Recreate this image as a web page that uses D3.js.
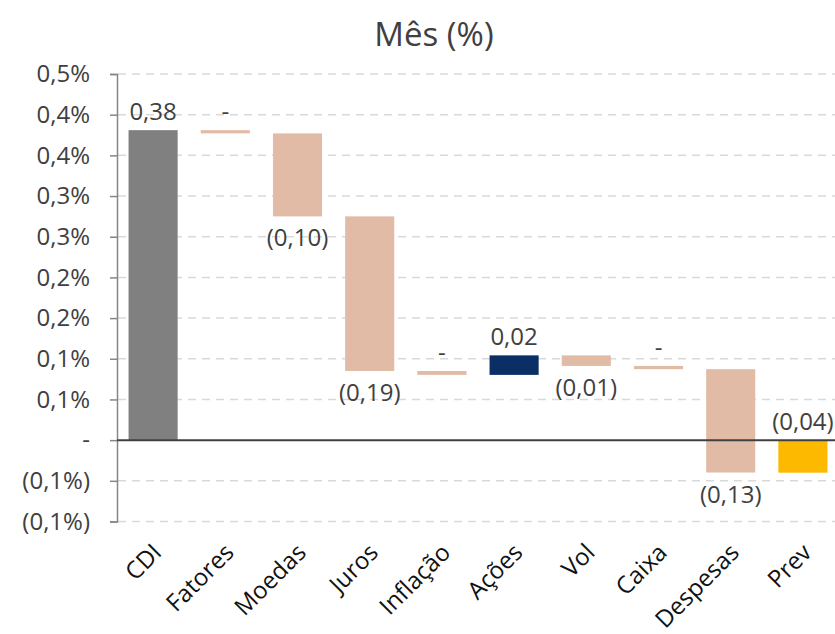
<!DOCTYPE html>
<html>
<head>
<meta charset="utf-8">
<script src="https://cdn.jsdelivr.net/npm/d3@7"></script>
<style>
  body { margin: 0; background: #fff; }
  text { font-family: 'Open Sans', sans-serif; fill: #404040; }
</style>
</head>
<body>
<svg id="chart"></svg>
<script>
// data
const categories = ['CDI', 'Fatores', 'Moedas', 'Juros', 'Inflação', 'Ações', 'Vol', 'Caixa', 'Despesas', 'Prev'];
const values = [0.381, -0.004, -0.102, -0.190, -0.0048, 0.024, -0.013, -0.004, -0.127, -0.040];
const totals = ['CDI', 'Prev'];
const yTicks = [-0.10, -0.05, 0, 0.05, 0.10, 0.15, 0.20, 0.25, 0.30, 0.35, 0.40, 0.45];
const yTickLabels = ['(0,1%)', '(0,1%)', '-', '0,1%', '0,1%', '0,2%', '0,2%', '0,3%', '0,3%', '0,4%', '0,4%', '0,5%'];

const width = 835, height = 634;
const svg = d3.select('#chart').attr('width', width).attr('height', height);

const x = d3.scaleBand()
  .domain(categories)
  .range([117, 839])
  .paddingInner(0.32)
  .paddingOuter(0.16);

const y = d3.scaleLinear().domain([-0.10, 0.45]).range([521.5, 74]);

// waterfall steps
let running = 0;
const steps = categories.map((c, i) => {
  const v = values[i];
  let start, end;
  if (totals.includes(c)) {
    start = 0; end = v; running = v;
  } else {
    start = running; end = running + v; running = end;
  }
  return { cat: c, value: v, start, end, total: totals.includes(c) };
});

const fmt = (v) => {
  const r = Math.round(Math.abs(v) * 100);
  if (r === 0) return '-';
  const s = (r / 100).toFixed(2).replace('.', ',');
  return v < 0 ? `(${s})` : s;
};

const colorOf = (d, i) => {
  if (d.total) return i === 0 ? '#808080' : '#FDB900';
  return d.value > 0 ? '#0A2F64' : '#E1BBA6';
};

// title
svg.append('text')
  .attr('x', 434)
  .attr('y', 46)
  .attr('text-anchor', 'middle')
  .style('font-size', '33px')
  .text('Mês (%)');

// gridlines
svg.append('g')
  .selectAll('line')
  .data(yTicks.filter((t) => t !== 0))
  .enter()
  .append('line')
  .attr('x1', 118)
  .attr('x2', width)
  .attr('y1', (d) => y(d))
  .attr('y2', (d) => y(d))
  .attr('stroke', '#D9D9D9')
  .attr('stroke-width', 1.5)
  .attr('stroke-dasharray', '8,6');

// y axis
const gy = svg.append('g')
  .attr('transform', 'translate(117,0)')
  .call(
    d3.axisLeft(y)
      .tickValues(yTicks)
      .tickFormat((d, i) => yTickLabels[i])
      .tickSize(7)
      .tickPadding(20)
  );
gy.select('.domain').attr('stroke', '#868686').attr('stroke-width', 1.5);
gy.selectAll('.tick line').attr('stroke', '#868686').attr('stroke-width', 1.5);
gy.selectAll('.tick text')
  .style('font-size', '24px')
  .style('font-family', "'Open Sans', sans-serif")
  .attr('fill', '#404040');

// bars
svg.append('g')
  .selectAll('rect')
  .data(steps)
  .enter()
  .append('rect')
  .attr('x', (d) => x(d.cat))
  .attr('width', x.bandwidth())
  .attr('y', (d) => y(Math.max(d.start, d.end)))
  .attr('height', (d) => Math.max(2.5, Math.abs(y(d.start) - y(d.end))))
  .attr('fill', colorOf);

// zero line
svg.append('line')
  .attr('x1', 117)
  .attr('x2', width)
  .attr('y1', y(0))
  .attr('y2', y(0))
  .attr('stroke', '#404040')
  .attr('stroke-width', 2);

// value labels
svg.append('g')
  .selectAll('text')
  .data(steps)
  .enter()
  .append('text')
  .attr('x', (d) => x(d.cat) + x.bandwidth() / 2)
  .attr('y', (d) => {
    const below = !d.total && fmt(d.value) !== '-' && d.value < 0;
    if (below) return y(Math.min(d.start, d.end)) + 30;
    return y(Math.max(d.start, d.end)) - 10;
  })
  .attr('text-anchor', 'middle')
  .style('font-size', '24px')
  .text((d) => fmt(d.value));

// category labels
svg.append('g')
  .selectAll('text')
  .data(categories)
  .enter()
  .append('text')
  .attr('transform', (d) => `translate(${x(d) + x.bandwidth() / 2 + 10}, 554) rotate(-45)`)
  .attr('text-anchor', 'end')
  .style('font-size', '24px')
  .style('fill', '#111')
  .text((d) => d);
</script>
</body>
</html>
